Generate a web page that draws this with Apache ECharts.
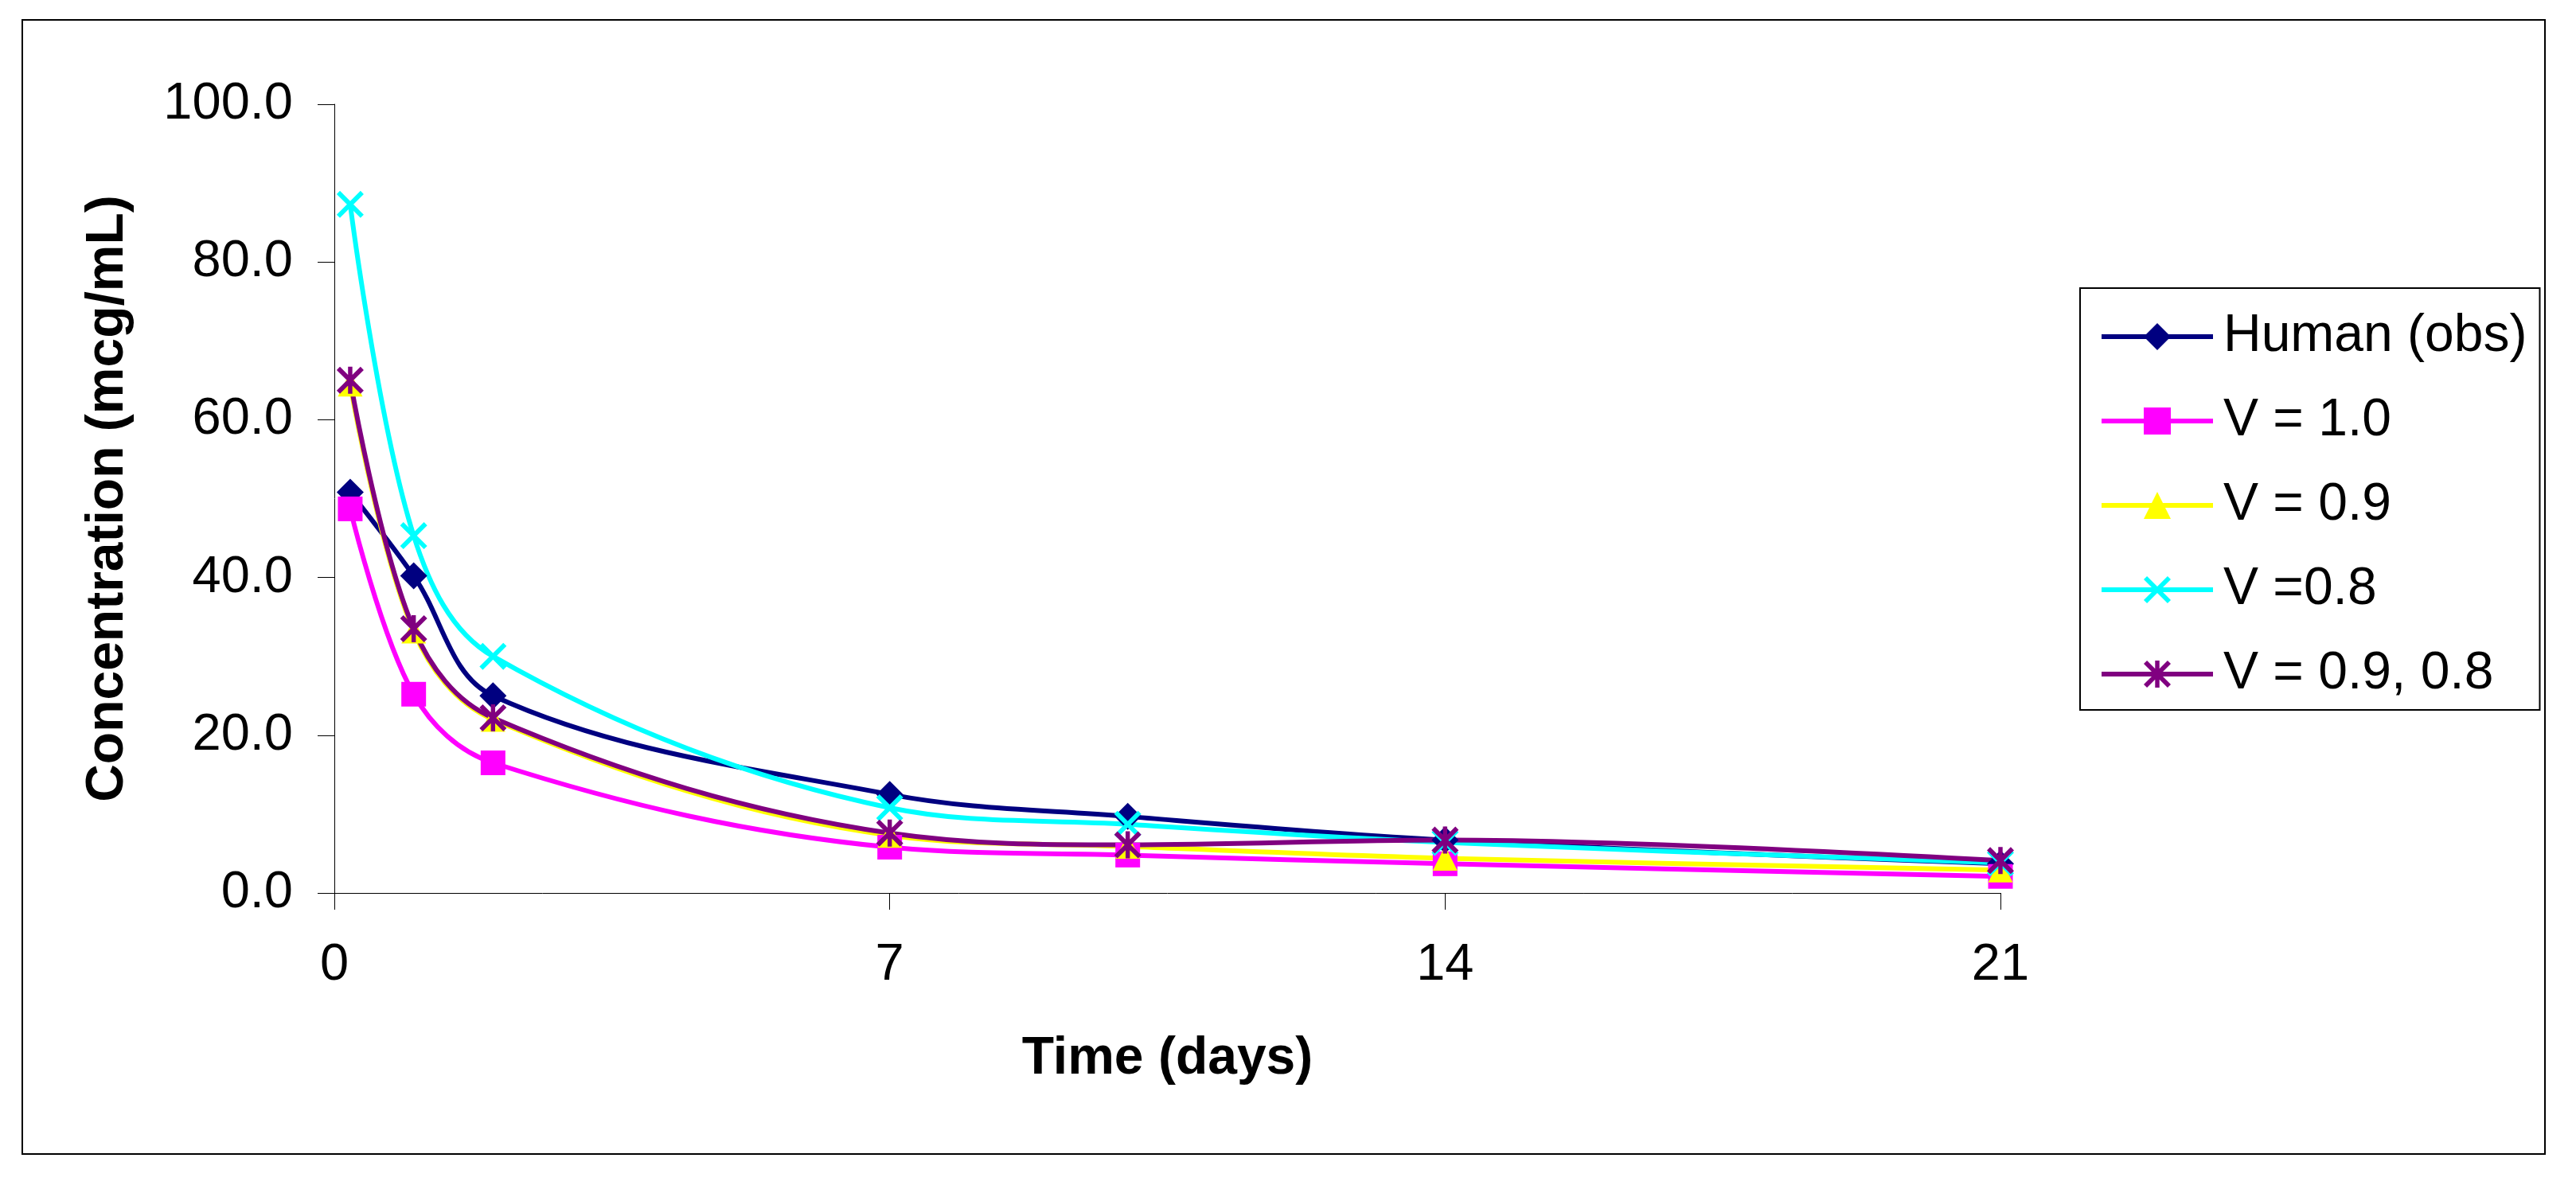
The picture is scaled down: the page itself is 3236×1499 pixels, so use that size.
<!DOCTYPE html>
<html>
<head>
<meta charset="utf-8">
<script src="https://cdn.jsdelivr.net/npm/echarts@6/dist/echarts.min.js"></script>
<style>
html,body{margin:0;padding:0;background:#fff;}
#chart{width:3236px;height:1499px;}
</style>
</head>
<body>
<div id="chart"></div>
<script>
// ---- data ----
const days = [0.2, 1, 2, 7, 10, 14, 21];
const seriesNames = ['Human (obs)', 'V = 1.0', 'V = 0.9', 'V =0.8', 'V = 0.9, 0.8'];
const human = [50.8, 40.2, 25.0, 12.5, 9.7, 6.7, 3.7];
const v10 = [48.7, 25.2, 16.5, 5.8, 4.8, 3.7, 2.1];
const v09 = [64.5, 33.2, 22.0, 7.3, 5.9, 4.4, 2.9];
const v08 = [87.3, 45.3, 30.0, 10.8, 8.7, 6.4, 3.8];
const v0908 = [65.0, 33.5, 22.2, 7.6, 6.1, 6.7, 4.1];
const xTicks = [0, 7, 14, 21];
const yTicks = [0, 20, 40, 60, 80, 100];

// ---- styles ----
const FONT = '"Liberation Sans", Arial, sans-serif';
const colors = ['#000080', '#FF00FF', '#FFFF00', '#00FFFF', '#800080'];
const X_PATH = 'path://M0,12 L12,0 L100,88 L88,100 Z M88,0 L100,12 L12,100 L0,88 Z';
const STAR_PATH = 'path://M0,12 L12,0 L100,88 L88,100 Z M88,0 L100,12 L12,100 L0,88 Z M42,0 L58,0 L58,100 L42,100 Z';
const symbols = ['diamond', 'rect', 'triangle', X_PATH, STAR_PATH];
const sizes = [34, 31, 31, 34, 34];
const allValues = [human, v10, v09, v08, v0908];

const pair = (vals) => days.map((d, i) => [d, vals[i]]);

const series = allValues.map((vals, i) => ({
  name: seriesNames[i],
  type: 'line',
  data: pair(vals),
  smooth: 0.35,
  symbol: symbols[i],
  symbolSize: sizes[i],
  showAllSymbol: true,
  lineStyle: { color: colors[i], width: 6 },
  itemStyle: { color: colors[i], borderWidth: 0 },
  emphasis: { disabled: true },
  animation: false
}));

const chart = echarts.init(document.getElementById('chart'), null, { renderer: 'canvas' });
chart.setOption({
  animation: false,
  backgroundColor: '#fff',
  textStyle: { fontFamily: FONT },
  grid: { left: 420, top: 131, right: 723, bottom: 377, containLabel: false },
  xAxis: {
    type: 'value',
    min: xTicks[0], max: xTicks[xTicks.length - 1], interval: 7,
    name: 'Time (days)',
    nameLocation: 'middle',
    nameGap: 176,
    nameTextStyle: { fontFamily: FONT, fontSize: 66, fontWeight: 'bold', color: '#000' },
    axisLine: { show: true, onZero: false, lineStyle: { color: '#000', width: 1 } },
    axisTick: { show: true, inside: false, length: 21, lineStyle: { color: '#000', width: 1 } },
    axisLabel: { fontFamily: FONT, fontSize: 65, color: '#000', margin: 59, formatter: v => String(v) },
    splitLine: { show: false }
  },
  yAxis: {
    type: 'value',
    min: yTicks[0], max: yTicks[yTicks.length - 1], interval: 20,
    name: 'Concentration (mcg/mL)',
    nameLocation: 'middle',
    nameGap: 251,
    nameRotate: 90,
    nameTextStyle: { fontFamily: FONT, fontSize: 66, fontWeight: 'bold', color: '#000' },
    axisLine: { show: true, lineStyle: { color: '#000', width: 1 } },
    axisTick: { show: true, inside: false, length: 21, lineStyle: { color: '#000', width: 1 } },
    axisLabel: { fontFamily: FONT, fontSize: 65, color: '#000', margin: 52, formatter: v => v.toFixed(1) },
    splitLine: { show: false }
  },
  legend: {
    orient: 'vertical',
    left: 2613,
    top: 362,
    padding: [28, 16, 12, 24],
    itemGap: 40,
    itemWidth: 140,
    itemHeight: 42.5,
    borderColor: '#000',
    borderWidth: 2,
    backgroundColor: '#fff',
    lineStyle: { width: 6 },
    textStyle: { fontFamily: FONT, fontSize: 66, color: '#000', padding: [0, 0, 0, 8] },
    data: seriesNames
  },
  graphic: [{
    type: 'rect',
    shape: { x: 28, y: 25, width: 3169, height: 1425 },
    style: { fill: 'none', stroke: '#000', lineWidth: 2 },
    silent: true,
    z: -1
  }],
  series: series
});
</script>
</body>
</html>
